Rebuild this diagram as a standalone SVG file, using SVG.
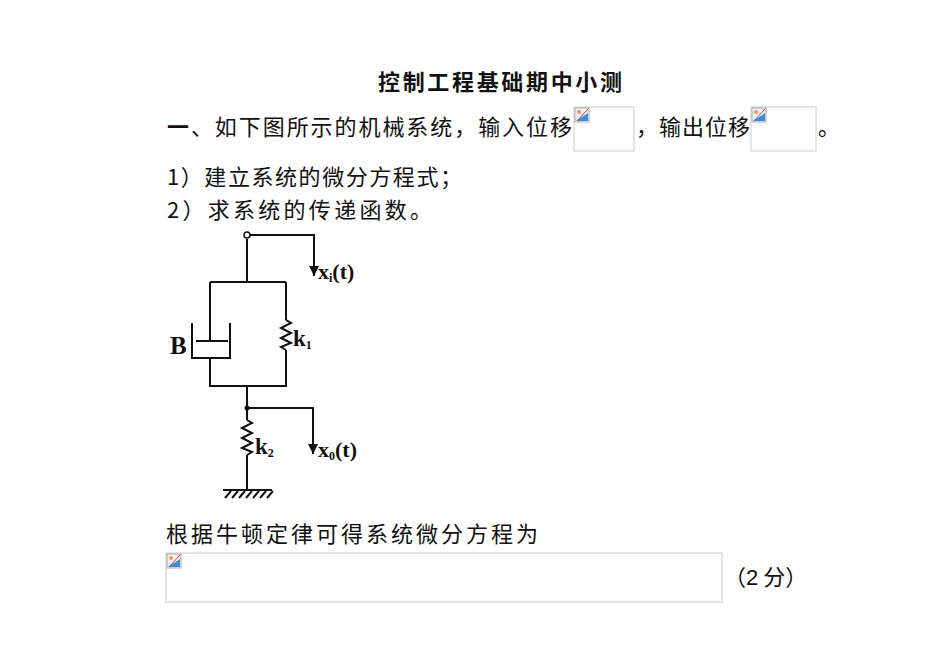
<svg xmlns="http://www.w3.org/2000/svg" width="950" height="672" viewBox="0 0 950 672">
<style>
.t{font-family:"Noto Sans CJK SC",sans-serif;font-size:22px;fill:#111}
.ln{stroke:#111;stroke-width:2;fill:none}
.lb{font-family:"Liberation Serif",serif;font-weight:bold;fill:#111}
.bx{fill:#fff;stroke:#ccc;stroke-width:1}
</style>
<defs>
<g id="ic"><rect x="0" y="0" width="14" height="14" fill="#eef" stroke="#999" stroke-width="0.8"/><polygon points="1,13 13,5 13,13" fill="#3a8fd8"/><circle cx="4" cy="4" r="2" fill="#e8a040"/><line x1="2" y1="13" x2="13" y2="1" stroke="#d33" stroke-width="1"/></g>
<marker id="ar" viewBox="0 0 10 10" refX="10" refY="5" markerWidth="5" markerHeight="6" orient="auto"><path d="M0,0L10,5L0,10z" fill="#111"/></marker>
</defs>
<g id="text">
<text class="t" x="378" y="90" textLength="244" font-weight="bold">控制工程基础期中小测</text>
<text class="t" x="167" y="135" textLength="405"><tspan font-weight="bold">一</tspan>、如下图所示的机械系统，输入位移</text>
<rect class="bx" x="574" y="107" width="60" height="44"/><use href="#ic" x="575" y="108"/>
<text class="t" x="636" y="135" textLength="114">，输出位移</text>
<rect class="bx" x="751" y="107" width="65" height="44"/><use href="#ic" x="752" y="108"/>
<text class="t" x="818" y="135">。</text>
<text class="t" x="167" y="185" textLength="295">1）建立系统的微分方程式；</text>
<text class="t" x="167" y="218" textLength="265">2）求系统的传递函数。</text>
<text class="t" x="166" y="542" textLength="372">根据牛顿定律可得系统微分方程为</text>
<rect class="bx" x="166" y="553" width="556" height="49"/><use href="#ic" x="167" y="554"/>
<text class="t" x="724" y="585">（<tspan font-family="Liberation Sans,sans-serif">2</tspan> 分）</text>
</g>
<g id="connectors">
<path class="ln" d="M250,235H314V276" marker-end="url(#ar)"/>
<path class="ln" d="M247,239V282M210,282H286M210,282V341M286,282V320M286,350V386M210,358V386"/>
<path class="ln" stroke-width="3" d="M209,386H287"/>
<path class="ln" d="M247,386V420M247,455V490M247,408H313V454" marker-end="url(#ar)"/>
<path class="ln" stroke-width="3" d="M223,490H272"/>
<path class="ln" stroke-width="1.5" d="M225,498L231,491M232,498L238,491M239,498L245,491M246,498L252,491M253,498L259,491M260,498L266,491M267,498L273,491"/>
</g>
<g id="dashpot">
<path class="ln" d="M192,323V358H230V323"/>
<path class="ln" d="M196,341H228"/>
<text class="lb" x="170" y="354" font-size="25">B</text>
</g>
<g id="k1">
<path class="ln" stroke-width="1.6" d="M286,320L291,323L281,328L291,333L281,338L291,343L281,347L286,350"/>
<text class="lb" x="293" y="346" font-size="23">k<tspan font-size="12" dy="3">1</tspan></text>
</g>
<g id="k2">
<path class="ln" stroke-width="1.6" d="M247,420L252,423L242,428L252,433L242,438L252,443L242,448L252,452L247,455"/>
<text class="lb" x="255" y="454" font-size="23">k<tspan font-size="12" dy="3">2</tspan></text>
</g>
<g id="nodes">
<circle cx="247" cy="235" r="3" fill="#fff" stroke="#111" stroke-width="1.5"/>
<circle cx="247" cy="408" r="2.5" fill="#111"/>
</g>
<g id="labels">
<text class="lb" x="318" y="279" font-size="22">x<tspan font-size="12" dy="3">i</tspan><tspan dy="-3">(t)</tspan></text>
<text class="lb" x="318" y="457" font-size="22">x<tspan font-size="12" dy="3">0</tspan><tspan dy="-3">(t)</tspan></text>
</g>
</svg>
